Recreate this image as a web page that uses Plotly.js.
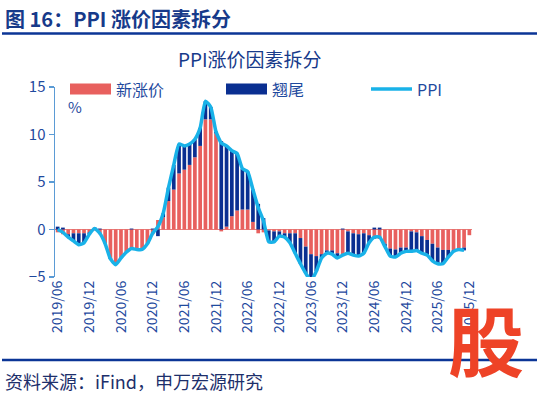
<!DOCTYPE html>
<html>
<head>
<meta charset="utf-8">
<script src="https://cdn.plot.ly/plotly-3.0.1.min.js"></script>
<style>
html,body{margin:0;padding:0;background:#fff;}
#chart{width:539px;height:395px;}
</style>
</head>
<body>
<div id="chart"></div>
<script>
var months = [
 "2019/06","2019/07","2019/08","2019/09","2019/10","2019/11","2019/12",
 "2020/01","2020/02","2020/03","2020/04","2020/05","2020/06","2020/07","2020/08","2020/09","2020/10","2020/11","2020/12",
 "2021/01","2021/02","2021/03","2021/04","2021/05","2021/06","2021/07","2021/08","2021/09","2021/10","2021/11","2021/12",
 "2022/01","2022/02","2022/03","2022/04","2022/05","2022/06","2022/07","2022/08","2022/09","2022/10","2022/11","2022/12",
 "2023/01","2023/02","2023/03","2023/04","2023/05","2023/06","2023/07","2023/08","2023/09","2023/10","2023/11","2023/12",
 "2024/01","2024/02","2024/03","2024/04","2024/05","2024/06","2024/07","2024/08","2024/09","2024/10","2024/11","2024/12",
 "2025/01","2025/02","2025/03","2025/04","2025/05","2025/06","2025/07","2025/08","2025/09","2025/10","2025/11","2025/12"
];
var tickLabels = ["2019/06","2019/12","2020/06","2020/12","2021/06","2021/12","2022/06","2022/12","2023/06","2023/12","2024/06","2024/12","2025/06","2025/12"];

var newPrice = [
 -0.3,-0.5,-0.5,-0.4,-0.4,-0.4,-0.3,
 -0.1,-0.5,-1.5,-3.0,-3.5,-3.0,-2.4,-2.1,-2.1,-2.1,-1.5,-0.5,
 1.0,1.3,3.0,4.2,5.9,6.3,6.8,7.6,8.8,11.6,11.6,10.1,
 -0.2,0.3,1.4,2.0,2.1,2.1,0.8,-0.4,-0.3,-0.1,-0.2,-0.2,
 -0.4,-0.4,-0.4,-0.9,-1.8,-2.6,-2.8,-2.6,-2.2,-2.2,-2.5,-2.8,
 -0.2,-0.4,-0.5,-0.4,-0.6,-1.0,-1.0,-1.5,-2.0,-2.1,-1.9,-1.9,
 -0.2,-0.3,-0.7,-1.1,-1.5,-1.9,-2.15,-2.15,-2.15,-2.0,-1.9,-0.6
];
var carryover = [
 0.3,0.2,-0.3,-0.8,-1.2,-1.0,-0.2,
 0.2,0.1,0.0,-0.1,-0.2,0.0,0.0,0.1,0.0,0.0,0.0,0.1,
 -0.7,0.4,1.4,2.6,3.1,2.5,2.2,1.9,1.9,1.9,1.3,0.2,
 9.3,8.5,6.9,6.0,4.3,4.0,3.4,2.7,1.2,-1.2,-1.1,-0.5,
 -0.4,-1.0,-2.1,-2.7,-2.8,-2.8,-1.6,-0.4,-0.3,-0.4,-0.5,0.1,
 -2.3,-2.3,-2.3,-2.1,-0.8,0.2,0.2,-0.3,-0.8,-0.8,-0.6,-0.4,
 -2.1,-1.9,-1.8,-1.6,-1.8,-1.7,-1.45,-0.75,-0.15,-0.1,-0.3,null
];
var ppi = [
 0.0,-0.3,-0.8,-1.2,-1.6,-1.4,-0.5,
 0.1,-0.4,-1.5,-3.1,-3.7,-3.0,-2.4,-2.0,-2.1,-2.1,-1.5,-0.4,
 0.3,1.7,4.4,6.8,9.0,8.8,9.0,9.5,10.7,13.5,12.9,10.3,
 9.1,8.8,8.3,8.0,6.4,6.1,4.2,2.3,0.9,-1.3,-1.3,-0.7,
 -0.8,-1.4,-2.5,-3.6,-4.6,-5.4,-4.4,-3.0,-2.5,-2.6,-3.0,-2.7,
 -2.5,-2.7,-2.8,-2.5,-1.4,-0.8,-0.8,-1.8,-2.8,-2.9,-2.5,-2.3,
 -2.3,-2.2,-2.5,-2.7,-3.3,-3.6,-3.6,-2.9,-2.3,-2.1,-2.2,null
];
var seriesNames = ["新涨价","翘尾","PPI"];

var RED = "#E8605E", NAVY = "#0A2F91", CYAN = "#19B2E8";
var TXT = "#1F4A9E", DARK = "#173A8A";
var CJK = "'Noto Sans CJK SC', 'Noto Sans', sans-serif";

var traces = [
 {type:"bar", x:months, y:newPrice, name:seriesNames[0], marker:{color:RED}, showlegend:false},
 {type:"bar", x:months, y:carryover, name:seriesNames[1], marker:{color:NAVY}, showlegend:false},
 {type:"scatter", mode:"lines", x:months, y:ppi, name:seriesNames[2], line:{color:CYAN, width:3.5, shape:"spline", smoothing:0.5}, showlegend:false, connectgaps:false}
];

// plot area: x 55..472 px, y 86.5..276.8 px
var L=55, R=472, T=86.5, B=276.8;
function px(x){return (x-L)/(R-L);}
function py(y){return (B-y)/(B-T);}

var layout = {
 width:539, height:395,
 margin:{l:L, r:539-R, t:T, b:395-B, pad:0},
 paper_bgcolor:"#fff", plot_bgcolor:"#fff",
 barmode:"relative", bargap:0.3,
 font:{family:CJK, color:TXT},
 xaxis:{type:"category", range:[-0.5, months.length-0.5], tickmode:"array", tickvals:tickLabels, ticktext:tickLabels,
        tickangle:-90, tickfont:{size:14, color:TXT, family:CJK}, showline:false, ticks:"", showgrid:false, zeroline:false, fixedrange:true},
 yaxis:{range:[-5,15], dtick:5, tick0:0, showline:true, linecolor:"#5B9BD5", linewidth:1.5, ticks:"outside", ticklen:5, tickcolor:"#5B9BD5", tickwidth:1.5,
        tickfont:{size:15, color:TXT, family:CJK}, showgrid:false, zeroline:true, zerolinecolor:"#E8807E", zerolinewidth:1.5, fixedrange:true},
 shapes:[
  {type:"line", xref:"paper", yref:"paper", x0:px(2), x1:px(537), y0:py(33), y1:py(33), line:{color:"#0B3596", width:2.5}},
  {type:"line", xref:"paper", yref:"paper", x0:px(2), x1:px(537), y0:py(360), y1:py(360), line:{color:"#0B3596", width:2.5}},
  {type:"rect", xref:"paper", yref:"paper", x0:px(70), x1:px(111), y0:py(94), y1:py(83), fillcolor:RED, line:{width:0}},
  {type:"rect", xref:"paper", yref:"paper", x0:px(226), x1:px(267), y0:py(94), y1:py(83), fillcolor:NAVY, line:{width:0}},
  {type:"line", xref:"paper", yref:"paper", x0:px(371), x1:px(412), y0:py(88.5), y1:py(88.5), line:{color:CYAN, width:3.5}}
 ],
 annotations:[
  {xref:"paper", yref:"paper", x:px(3), y:py(18), xanchor:"left", yanchor:"middle", showarrow:false,
   text:"<b>图 16：PPI 涨价因素拆分</b>", font:{size:20, color:DARK, family:CJK}},
  {xref:"paper", yref:"paper", x:px(250), y:py(58), xanchor:"center", yanchor:"middle", showarrow:false,
   text:"PPI涨价因素拆分", font:{size:19, color:DARK, family:CJK}},
  {xref:"paper", yref:"paper", x:px(114), y:py(88.5), xanchor:"left", yanchor:"middle", showarrow:false,
   text:seriesNames[0], font:{size:16, color:TXT, family:CJK}},
  {xref:"paper", yref:"paper", x:px(270), y:py(88.5), xanchor:"left", yanchor:"middle", showarrow:false,
   text:seriesNames[1], font:{size:16, color:TXT, family:CJK}},
  {xref:"paper", yref:"paper", x:px(415), y:py(88.5), xanchor:"left", yanchor:"middle", showarrow:false,
   text:seriesNames[2], font:{size:16, color:TXT, family:CJK}},
  {xref:"paper", yref:"paper", x:px(66), y:py(106), xanchor:"left", yanchor:"middle", showarrow:false,
   text:"%", font:{size:15, color:TXT, family:CJK}},
  {xref:"paper", yref:"paper", x:px(3), y:py(381), xanchor:"left", yanchor:"middle", showarrow:false,
   text:"资料来源：iFind，申万宏源研究", font:{size:18, color:"#1D2F6B", family:CJK}},
  {xref:"paper", yref:"paper", x:px(486), y:py(338), xanchor:"center", yanchor:"middle", showarrow:false,
   text:"<b>股</b>", font:{size:76, color:"#EE4327", family:CJK}}
 ]
};

Plotly.newPlot("chart", traces, layout, {staticPlot:true, displayModeBar:false});
</script>
</body>
</html>
